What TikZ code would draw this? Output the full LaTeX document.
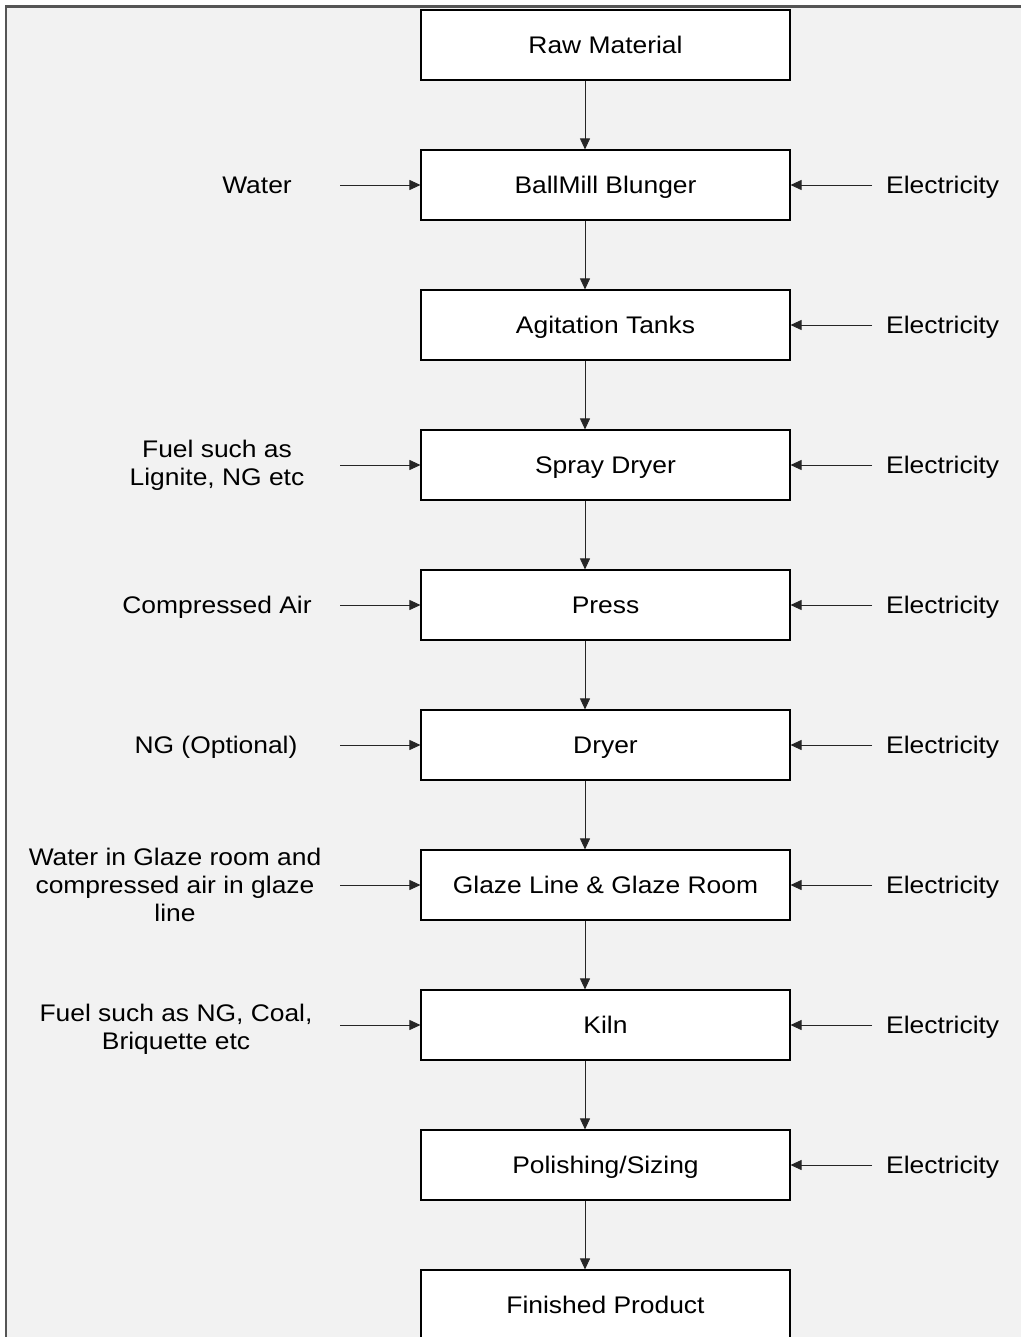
\documentclass[tikz,border=0pt]{standalone}
\usepackage{fontspec}
\setmainfont{Liberation Sans}[FakeStretch=1.1]
\usetikzlibrary{arrows.meta}
\definecolor{bgray}{HTML}{F2F2F2}
\definecolor{frame}{HTML}{555555}
\tikzset{
  stepbox/.style={draw=black, line width=1.1pt, fill=white, minimum width=369pt, minimum height=70pt, inner sep=0pt, text height=17pt, text depth=0pt, font=\fontsize{24}{28}\selectfont},
  lbl/.style={align=center, inner sep=0pt, font=\fontsize{24}{28}\selectfont},
  slbl/.style={lbl, text height=17pt, text depth=0pt},
  flow/.style={draw=black!85, line width=0.8pt, -{Triangle[length=11pt,width=10pt]}}
}
\begin{document}
\begin{tikzpicture}[x=1pt,y=-1pt]
\useasboundingbox (0,0) rectangle (1021,1337);
\fill[bgray] (6,6.5) rectangle (1021,1337);
\draw[frame, line width=2.2pt] (6,1337) -- (6,6.5) -- (1021,6.5);
% boxes
\node[stepbox] (b0) at (605.5,45) {Raw Material};
\node[stepbox] (b1) at (605.5,185) {BallMill Blunger};
\node[stepbox] (b2) at (605.5,325) {Agitation Tanks};
\node[stepbox] (b3) at (605.5,465) {Spray Dryer};
\node[stepbox] (b4) at (605.5,605) {Press};
\node[stepbox] (b5) at (605.5,745) {Dryer};
\node[stepbox] (b6) at (605.5,885) {Glaze Line \& Glaze Room};
\node[stepbox] (b7) at (605.5,1025) {Kiln};
\node[stepbox] (b8) at (605.5,1165) {Polishing/Sizing};
\node[stepbox] (b9) at (605.5,1305) {Finished Product};
% vertical flow
\foreach \a/\b in {b0/b1,b1/b2,b2/b3,b3/b4,b4/b5,b5/b6,b6/b7,b7/b8,b8/b9}
  \draw[flow] ([xshift=-20.5pt]\a.south) -- ([xshift=-20.5pt]\b.north);
% electricity inputs
\foreach \b in {b1,b2,b3,b4,b5,b6,b7,b8}{
  \node[slbl, anchor=west] (e\b) at (886,0 |- \b.center) {Electricity};
  \coordinate (ce\b) at (872,0 |- \b.center);
  \draw[flow] (ce\b) -- (\b.east);
}
% left inputs
\node[slbl] (l1) at (257,185) {Water};
\node[lbl] (l3) at (217,465) {Fuel such as\\Lignite, NG etc};
\node[slbl] (l4) at (217,605) {Compressed Air};
\node[slbl] (l5) at (216,745) {NG (Optional)};
\node[lbl] (l6) at (175,885) {Water in Glaze room and\\compressed air in glaze\\line};
\node[lbl] (l7) at (176,1029) {Fuel such as NG, Coal,\\Briquette etc};
\foreach \b in {b1,b3,b4,b5,b6,b7}{
  \coordinate (cl\b) at (340,0 |- \b.center);
  \draw[flow] (cl\b) -- (\b.west);
}
\end{tikzpicture}
\end{document}
